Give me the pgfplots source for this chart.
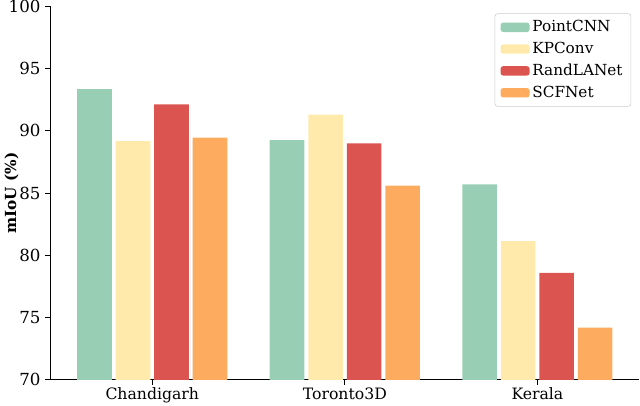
\documentclass[border=0pt]{standalone}
\usepackage{pgfplots}
\pgfplotsset{compat=1.18}
\usepackage{fontspec}
\setmainfont{DejaVu Serif}
\definecolor{cpoint}{RGB}{152,207,180}
\definecolor{ckp}{RGB}{255,234,172}
\definecolor{crand}{RGB}{219,84,79}
\definecolor{cscf}{RGB}{253,172,95}
\begin{document}
\begin{tikzpicture}
\begin{axis}[
    ybar,
    scale only axis,
    width=424.8pt, height=269.3pt,
    xmin=-0.53, xmax=2.53,
    ymin=70, ymax=100,
    xtick={0,1,2},
    xticklabels={Chandigarh,Toronto3D,Kerala},
    ytick={70,75,...,100},
    axis x line*=bottom, axis y line*=left,
    axis line style={line width=0.8pt},
    tick align=outside,
    major tick length=3.5pt,
    tick style={black, line width=0.8pt},
    /pgf/number format/assume math mode=true,
    xticklabel style={font=\fontsize{11.3}{13}\selectfont, inner ysep=2pt},
    yticklabel style={font=\fontsize{12}{14}\selectfont, inner ysep=0pt},
    ylabel={\textbf{mIoU (\%)}},
    ylabel style={font=\fontsize{11}{13}\selectfont},
    ylabel shift=-14pt,
    bar width=0.18,
    legend style={at={(0.986,0.981)}, anchor=north east,
        draw=black!20, rounded corners=2pt,
        font=\fontsize{11}{13}\selectfont,
        row sep=2pt, inner xsep=4pt, inner ysep=3pt},
    legend cell align=left,
    legend image code/.code={\fill[#1] (0pt,-3.4pt) rectangle (21pt,3.4pt);},
]
\addplot[fill=cpoint, draw=none, bar shift=-0.3] coordinates {(0,93.35) (1,89.25) (2,85.7)};
\addplot[fill=ckp, draw=none, bar shift=-0.1] coordinates {(0,89.17) (1,91.3) (2,81.15)};
\addplot[fill=crand, draw=none, bar shift=0.1] coordinates {(0,92.13) (1,89.0) (2,78.6)};
\addplot[fill=cscf, draw=none, bar shift=0.3] coordinates {(0,89.46) (1,85.6) (2,74.2)};
\legend{PointCNN,KPConv,RandLANet,SCFNet}
\end{axis}
\end{tikzpicture}
\end{document}
